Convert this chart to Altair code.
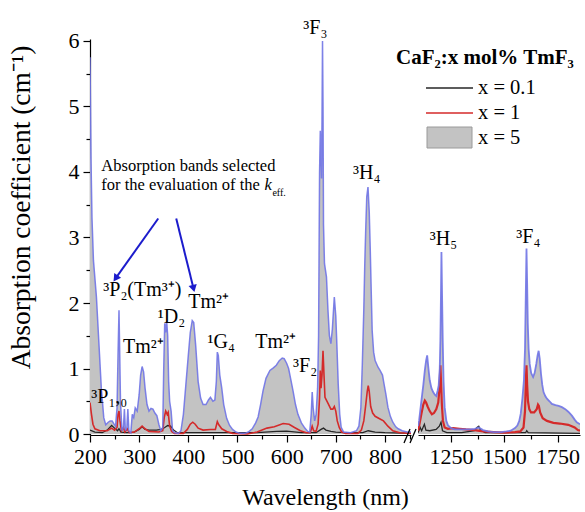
import altair as alt
import pandas as pd

FONT = "Liberation Serif"
GRAY = "#c3c3c3"
BLUE_LINE = "#7074e6"
RED = "#d42a2a"
BLACK = "#262626"
ARROW = "#1c1ccc"

# ---------------- data: wavelength (nm) / absorption coefficient (cm^-1) ----------------
# x = 5 mol%, UV-VIS part
wl5_left = [200, 202, 204, 207, 213, 218, 223, 228, 232, 237,
            241, 245, 249, 252, 255, 257, 259, 260.5, 262, 265,
            268, 270, 272, 275, 277, 279, 283, 286, 289, 292,
            296, 300, 303, 306, 309, 312, 316, 320, 324, 328,
            332, 336, 340, 344, 348, 350, 352, 354, 356, 358,
            360, 362, 365, 368, 372, 380, 385, 390, 395, 400,
            404, 408, 411, 415, 420, 425, 430, 436, 441, 445,
            450, 454, 457, 459, 461, 464, 468, 472, 478, 484,
            490, 497, 505, 515, 522, 530, 537, 542, 547, 552,
            558, 566, 573, 579, 585, 591, 595, 600, 604, 608,
            613, 618, 623, 630, 637, 643, 647, 650, 652, 654,
            657, 660, 663, 665, 667, 668.5, 670, 671, 672, 673,
            674, 675, 677, 681, 684, 687, 690, 693, 697, 700,
            702, 705, 708, 711, 716, 730, 742, 747, 751, 754,
            757, 759, 761, 763, 765.5, 768, 770, 772, 774, 777,
            780, 786, 790, 795, 798, 802, 806, 811, 816, 822,
            827, 835, 845, 853]
a5_left = [5.75, 4.2, 3.3, 2.65, 2.1, 1.4, 0.7, 0.25, 0.14, 0.18,
           0.2, 0.2, 0.15, 0.12, 0.4, 1.2, 1.89, 1.2, 0.5, 0.05,
           0.1, 0.38, 0.05, 0.1, 0.38, 0.05, 0.02, 0.3, 0.25, 0.4,
           0.35, 0.6, 0.9, 1.03, 0.95, 0.7, 0.45, 0.35, 0.39, 0.38,
           0.32, 0.28, 0.15, 0.05, 0.1, 1.0, 1.69, 1.55, 1.72, 1.5,
           0.8, 0.5, 0.35, 0.05, 0.02, 0.01, 0.05, 0.3, 0.75, 1.2,
           1.55, 1.73, 1.7, 1.35, 0.8, 0.55, 0.45, 0.45, 0.52, 0.56,
           0.5, 0.52, 0.8, 1.25, 1.2, 0.9, 0.7, 0.45, 0.24, 0.13,
           0.07, 0.03, 0.01, 0.01, 0.03, 0.08, 0.17, 0.26, 0.45, 0.66,
           0.85, 0.97, 1.01, 1.05, 1.12, 1.16, 1.15, 1.08, 1.0, 0.85,
           0.66, 0.45, 0.3, 0.17, 0.09, 0.04, 0.03, 0.3, 0.64, 0.4,
           0.2, 0.3, 0.7, 1.5, 4.0, 4.63, 4.2, 3.9, 4.8, 6.0,
           5.0, 3.2, 2.6, 2.4, 1.9, 1.5, 1.38, 1.6, 2.09, 1.8,
           1.4, 0.75, 0.3, 0.1, 0.03, 0.02, 0.05, 0.12, 0.4, 1.07,
           1.9, 2.6, 3.15, 3.62, 3.77, 3.4, 2.85, 2.2, 1.58, 1.25,
           1.12, 1.02, 0.97, 0.9, 0.77, 0.6, 0.41, 0.27, 0.18, 0.11,
           0.08, 0.05, 0.03, 0.03]

# x = 1 mol%, UV-VIS part
wl1_left = [200, 203, 206, 210, 220, 235, 244, 250, 255, 257,
            259, 261, 264, 268, 271, 276, 280, 290, 300, 306,
            312, 320, 340, 348, 351, 354, 357, 359, 362, 366,
            372, 390, 398, 404, 409, 414, 420, 430, 445, 455,
            459, 462, 468, 478, 490, 520, 540, 560, 575, 593,
            605, 616, 628, 640, 648, 652, 655, 660, 664, 667,
            668.5, 670, 672, 674, 676, 678, 684, 690, 694, 697,
            700, 703, 707, 712, 720, 745, 752, 757, 761, 764,
            766, 768, 771, 775, 780, 790, 797, 806, 816, 830,
            853]
a1_left = [0.48, 0.3, 0.15, 0.08, 0.05, 0.05, 0.09, 0.06, 0.1, 0.3,
           0.35, 0.2, 0.05, 0.1, 0.03, 0.08, 0.02, 0.03, 0.08, 0.12,
           0.08, 0.04, 0.03, 0.05, 0.25, 0.35, 0.3, 0.33, 0.12, 0.04,
           0.01, 0.01, 0.07, 0.15, 0.18, 0.15, 0.09, 0.06, 0.07, 0.07,
           0.19, 0.14, 0.08, 0.04, 0.01, 0.0, 0.03, 0.09, 0.11, 0.16,
           0.15, 0.1, 0.05, 0.02, 0.02, 0.12, 0.05, 0.04, 0.15, 0.55,
           0.97, 0.7, 0.9, 1.27, 0.9, 0.56, 0.47, 0.38, 0.38, 0.42,
           0.35, 0.2, 0.1, 0.03, 0.01, 0.01, 0.06, 0.2, 0.45, 0.65,
           0.74, 0.65, 0.42, 0.32, 0.27, 0.23, 0.2, 0.12, 0.05, 0.02,
           0.01]

# x = 0.1 mol%, UV-VIS part
wl01_left = [200, 210, 225, 235, 244, 250, 256, 259, 263, 275,
             290, 300, 306, 312, 320, 335, 345, 352, 358, 364,
             370, 378, 400, 450, 500, 540, 580, 600, 630, 660,
             670, 675, 680, 690, 700, 720, 755, 766, 780, 800,
             853]
a01_left = [0.06, 0.03, 0.02, 0.06, 0.13, 0.09, 0.05, 0.08, 0.03, 0.02,
            0.03, 0.07, 0.11, 0.07, 0.06, 0.06, 0.07, 0.1, 0.13, 0.12,
            0.06, 0.02, 0.02, 0.02, 0.02, 0.02, 0.04, 0.045, 0.02, 0.02,
            0.07, 0.09, 0.06, 0.04, 0.03, 0.02, 0.02, 0.05, 0.03, 0.02,
            0.01]

# x = 5 mol%, NIR part
wl5_right = [1095, 1100, 1111, 1120, 1127, 1133, 1138, 1144, 1150, 1158,
             1166, 1174, 1181, 1187, 1192, 1197, 1200, 1203, 1205, 1208,
             1211, 1215, 1220, 1228, 1236, 1250, 1267, 1300, 1340, 1361,
             1380, 1400, 1423, 1450, 1486, 1510, 1530, 1550, 1561, 1570,
             1577, 1585, 1592, 1597, 1601, 1604, 1607, 1610, 1614, 1619,
             1626, 1635, 1642, 1650, 1656, 1661, 1666, 1672, 1678, 1684,
             1692, 1700, 1712, 1723, 1740, 1755, 1770, 1786, 1800, 1817,
             1830, 1840, 1855]
a5_right = [0.12, 0.2, 0.51, 0.75, 0.97, 1.12, 1.2, 1.0, 0.82, 0.7,
            0.64, 0.6, 0.58, 0.66, 0.74, 1.0, 1.43, 2.2, 2.78, 2.1,
            1.43, 0.8, 0.41, 0.2, 0.13, 0.09, 0.07, 0.07, 0.07, 0.08,
            0.1, 0.06, 0.04, 0.03, 0.03, 0.04, 0.05, 0.09, 0.13, 0.2,
            0.31, 0.55, 0.82, 1.3, 2.2, 2.83, 2.3, 1.69, 1.3, 1.07,
            0.93, 0.87, 0.93, 1.07, 1.2, 1.27, 1.15, 0.92, 0.75, 0.64,
            0.58, 0.54, 0.5, 0.46, 0.44, 0.43, 0.41, 0.38, 0.34, 0.28,
            0.22, 0.18, 0.15]

# x = 1 mol%, NIR part
wl1_right = [1095, 1100, 1111, 1120, 1127, 1133, 1140, 1150, 1160, 1170,
             1181, 1190, 1196, 1200, 1203, 1207, 1212, 1220, 1235, 1260,
             1290, 1320, 1360, 1400, 1450, 1500, 1550, 1575, 1590, 1597,
             1601, 1604, 1607, 1611, 1617, 1625, 1640, 1652, 1658, 1662,
             1668, 1680, 1700, 1730, 1760, 1800, 1830, 1845, 1855]
a1_right = [0.05, 0.12, 0.31, 0.45, 0.51, 0.48, 0.42, 0.35, 0.3, 0.32,
            0.38, 0.48, 0.7, 1.05, 0.8, 0.45, 0.2, 0.1, 0.08, 0.09,
            0.08, 0.07, 0.06, 0.04, 0.03, 0.02, 0.03, 0.04, 0.1, 0.35,
            0.8, 1.05, 0.75, 0.5, 0.38, 0.33, 0.33, 0.38, 0.45, 0.43,
            0.33, 0.24, 0.2, 0.17, 0.16, 0.14, 0.1, 0.06, 0.05]

# x = 0.1 mol%, NIR part
wl01_right = [1095, 1105, 1112, 1125, 1132, 1150, 1180, 1195, 1203, 1210,
              1230, 1300, 1360, 1372, 1380, 1388, 1410, 1600, 1605, 1612, 1855]
a01_right = [0.02, 0.1, 0.05, 0.15, 0.06, 0.05, 0.07, 0.12, 0.18, 0.05,
             0.02, 0.02, 0.05, 0.1, 0.12, 0.06, 0.02, 0.02, 0.05, 0.02, 0.01]

# band labels
ann_left_text = ["³P₂(Tm³⁺)", "Tm²⁺", "¹D₂", "Tm²⁺", "¹G₄", "Tm²⁺", "³F₂", "³P₁,₀", "³F₃", "³H₄"]
ann_left_wl = [227, 400, 338, 267, 439, 536, 613, 202.6, 634, 735]
ann_left_a = [2.11, 1.92, 1.70, 1.23, 1.32, 1.31, 0.94, 0.48, 6.11, 3.89]

ann_right_text = ["³H₅", "³F₄"]
ann_right_wl = [1150, 1556]
ann_right_a = [2.88, 2.92]

note_lines = ["Absorption bands selected", "for the evaluation of the"]
note_wl = [223, 223]
note_a = [4.02, 3.72]

arrow_wl = [338.8, 375.4]
arrow_a = [3.29, 3.29]
arrow_wl2 = [253.5, 410.0]
arrow_a2 = [2.39, 2.24]
arrow_angle = [215, 166]

legend_labels = ["x = 0.1", "x = 1", "x = 5"]

# ---------------- chart ----------------
H = 396
W_LEFT = 321
W_RIGHT = 162
yscale = alt.Scale(domain=[-0.015, 6.03], nice=False, zero=False)
lscale = alt.Scale(domain=[200, 853], nice=False, zero=False)
rscale = alt.Scale(domain=[1095, 1855], nice=False, zero=False)

yaxis = alt.Axis(
    values=[i * 0.5 for i in range(13)],
    labelExpr="datum.value % 1 == 0 ? format(datum.value, 'd') : ''",
    tickSize={"condition": {"test": "datum.value % 1 != 0", "value": 4}, "value": 7},
    labelPadding=4, labelFontSize=22, labelOverlap=False,
    title="Absorption coefficient (cm⁻¹)", titleFontSize=27.5, titleFontWeight="normal",
    titleAngle=-90, titleX=-61, titleY=168, titleAlign="center", titleBaseline="alphabetic",
)
xaxis_left = alt.Axis(
    values=list(range(200, 851, 50)),
    labelExpr="datum.value % 100 == 0 ? format(datum.value, 'd') : ''",
    tickSize={"condition": {"test": "datum.value % 100 != 0", "value": 4}, "value": 7},
    labelPadding=4, labelFontSize=22, labelOverlap=False, labelFlush=False,
    title="Wavelength (nm)", titleFontSize=24, titleFontWeight="normal",
    titleX=235, titleY=69, titleAlign="center", titleBaseline="alphabetic",
)
xaxis_right = alt.Axis(
    values=[1125, 1250, 1375, 1500, 1625, 1750],
    labelExpr="datum.value % 250 == 0 ? format(datum.value, 'd') : ''",
    tickSize={"condition": {"test": "datum.value % 250 != 0", "value": 4}, "value": 7},
    labelPadding=4, labelFontSize=22, labelOverlap=False, labelFlush=False,
    title=None,
)


def spectra(w5, a5, w1, a1, w01, a01, xscale, xaxis, yax, red_width, blue_width):
    x = alt.X("wl:Q", scale=xscale, axis=xaxis)
    y = alt.Y("a:Q", scale=yscale, axis=yax)
    d5 = pd.DataFrame({"wl": w5, "a": a5})
    d1 = pd.DataFrame({"wl": w1, "a": a1})
    d01 = pd.DataFrame({"wl": w01, "a": a01})
    area = alt.Chart(d5).mark_area(color=GRAY, clip=True).encode(x=x, y=y)
    black = alt.Chart(d01).mark_line(color=BLACK, strokeWidth=1.3, clip=True).encode(x=x, y=y)
    red = alt.Chart(d1).mark_line(color=RED, strokeWidth=red_width, clip=True).encode(x=x, y=y)
    blue = alt.Chart(d5).mark_line(color=BLUE_LINE, strokeWidth=blue_width, opacity=0.9,
                                    clip=True).encode(x=x, y=y)
    return [area, black, red, blue], x, y


left_layers, xl, yl = spectra(wl5_left, a5_left, wl1_left, a1_left, wl01_left, a01_left,
                              lscale, xaxis_left, yaxis, 1.6, 1.5)

ann_left = alt.Chart(pd.DataFrame({"wl": ann_left_wl, "a": ann_left_a, "t": ann_left_text})).mark_text(
    font=FONT, fontSize=20, align="left", baseline="alphabetic", color="black"
).encode(x=xl, y=yl, text="t:N")

note = alt.Chart(pd.DataFrame({"wl": note_wl, "a": note_a, "t": note_lines})).mark_text(
    font=FONT, fontSize=16.5, align="left", baseline="alphabetic", color="black"
).encode(x=xl, y=yl, text="t:N")
note_k = alt.Chart(pd.DataFrame({"wl": [555], "a": [3.72], "t": ["k"]})).mark_text(
    font=FONT, fontSize=16.5, fontStyle="italic", align="left", baseline="alphabetic", color="black"
).encode(x=xl, y=yl, text="t:N")
note_eff = alt.Chart(pd.DataFrame({"wl": [571], "a": [3.64], "t": ["eff."]})).mark_text(
    font=FONT, fontSize=10, align="left", baseline="alphabetic", color="black"
).encode(x=xl, y=yl, text="t:N")

arrows_df = pd.DataFrame({"wl": arrow_wl, "a": arrow_a, "wl2": arrow_wl2, "a2": arrow_a2,
                          "ang": arrow_angle})
arrow_lines = alt.Chart(arrows_df).mark_rule(color=ARROW, strokeWidth=2).encode(
    x=xl, y=yl, x2="wl2:Q", y2="a2:Q")
arrow_heads = alt.Chart(arrows_df).mark_point(
    shape="triangle", filled=True, size=70, color=ARROW, opacity=1
).encode(x=alt.X("wl2:Q", scale=lscale, axis=xaxis_left),
         y=alt.Y("a2:Q", scale=yscale, axis=yaxis),
         angle=alt.Angle("ang:Q", scale=None))

one = pd.DataFrame({"k": [0]})

left = alt.layer(*left_layers, ann_left, note, note_k, note_eff, arrow_lines, arrow_heads).properties(
    width=W_LEFT, height=H)

right_layers, xr, yr = spectra(wl5_right, a5_right, wl1_right, a1_right, wl01_right, a01_right,
                               rscale, xaxis_right, alt.Axis(labels=False, ticks=False, domain=False, title=None),
                               2.2, 1.8)

ann_right = alt.Chart(pd.DataFrame({"wl": ann_right_wl, "a": ann_right_a, "t": ann_right_text})).mark_text(
    font=FONT, fontSize=20, align="left", baseline="alphabetic", color="black"
).encode(x=xr, y=yr, text="t:N")

# break marks "//" drawn in pixel space just left of the NIR panel
slash1 = alt.Chart(one).mark_rule(color="black", strokeWidth=1.3).encode(
    x=alt.value(-14), x2=alt.value(-8), y=alt.value(H + 8), y2=alt.value(H - 6))
slash2 = alt.Chart(one).mark_rule(color="black", strokeWidth=1.3).encode(
    x=alt.value(-8), x2=alt.value(-2), y=alt.value(H + 8), y2=alt.value(H - 6))

# legend (pixel space inside the NIR panel)
leg_title = alt.Chart(one).mark_text(
    font=FONT, fontSize=21, fontWeight="bold", align="left", baseline="alphabetic", color="black"
).encode(x=alt.value(-22), y=alt.value(25), text=alt.value("CaF₂:x mol% TmF₃"))
leg_black = alt.Chart(one).mark_rule(color=BLACK, strokeWidth=1.5).encode(
    x=alt.value(8), x2=alt.value(55), y=alt.value(49))
leg_red = alt.Chart(one).mark_rule(color=RED, strokeWidth=1.5).encode(
    x=alt.value(8), x2=alt.value(55), y=alt.value(74))
leg_box = alt.Chart(one).mark_rect(color=GRAY, stroke="#9a9a9a", strokeWidth=1).encode(
    x=alt.value(9), x2=alt.value(54), y=alt.value(88), y2=alt.value(109))
leg_text = alt.Chart(pd.DataFrame({"t": legend_labels, "i": [0, 1, 2]})).mark_text(
    font=FONT, fontSize=20.5, align="left", baseline="middle", color="black"
).encode(x=alt.value(60),
         y=alt.Y("i:Q", scale=alt.Scale(domain=[0, 2], range=[49, 98.5]), axis=None),
         text="t:N")

right = alt.layer(*right_layers, ann_right, slash1, slash2,
                  leg_title, leg_black, leg_red, leg_box, leg_text).properties(
    width=W_RIGHT, height=H).resolve_scale(y="independent")

chart = alt.hconcat(left, right, spacing=7, bounds="flush").properties(
    padding={"left": 7, "top": 17, "right": 3, "bottom": 5}
).configure_axis(
    labelFont=FONT, titleFont=FONT, labelColor="black", titleColor="black",
    domainColor="black", tickColor="black", domainWidth=1.2, tickWidth=1.2, grid=False,
).configure_view(stroke=None)

chart.save("out.html", embed_options={"renderer": "svg", "actions": False})
